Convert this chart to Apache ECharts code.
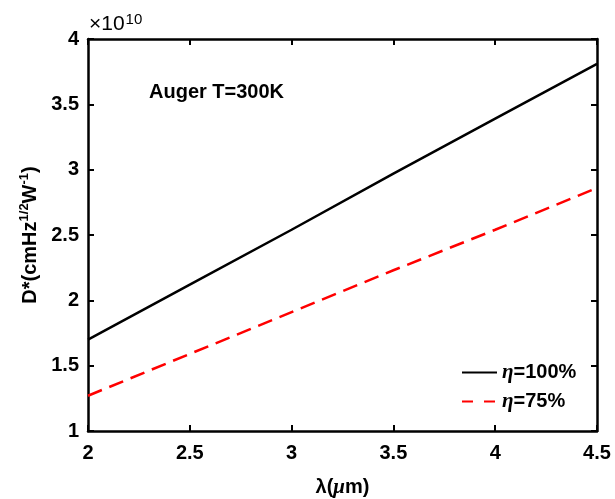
<!DOCTYPE html>
<html>
<head>
<meta charset="utf-8">
<script src="https://cdn.jsdelivr.net/npm/echarts@6/dist/echarts.min.js"></script>
<style>
  html, body { margin: 0; padding: 0; background: #fff; }
  #chart { width: 615px; height: 499px; }
</style>
</head>
<body>
<div id="chart"></div>
<script>
// wavelength (um) and detectivity (x1e10 cmHz^1/2 W^-1)
const lambda = [2, 2.5, 3, 3.5, 4, 4.5];
const eta100 = [1.70, 2.12, 2.54, 2.97, 3.39, 3.81];
const eta75 = [1.27, 1.59, 1.91, 2.23, 2.54, 2.86];
const seriesNames = ['{i|η}=100%', '{i|η}=75%'];

const FONT = 'Liberation Sans, Arial, sans-serif';
const SERIF = 'Liberation Serif, Times New Roman, serif';
const chart = echarts.init(document.getElementById('chart'), null, { renderer: 'canvas' });

const tickLabel = { color: '#000', fontFamily: FONT, fontWeight: 'bold', fontSize: 20 };
const axisLine = { show: true, lineStyle: { color: '#000', width: 2.5 } };
const axisTick = { show: true, inside: true, length: 6, lineStyle: { color: '#000', width: 2 } };

chart.setOption({
  animation: false,
  backgroundColor: '#fff',
  grid: { left: 88, right: 18, top: 39, bottom: 68, outerBoundsMode: 'none', containLabel: false },
  xAxis: [{
    type: 'value', min: 2, max: 4.5, interval: 0.5,
    axisLine, axisTick, splitLine: { show: false },
    axisLabel: { ...tickLabel, margin: 12 },
    name: '{b|λ(}{m|μ}{b|m)}', nameLocation: 'middle', nameGap: 46,
    nameTextStyle: {
      color: '#000', fontFamily: FONT, fontWeight: 'bold', fontSize: 20,
      rich: {
        b: { fontFamily: FONT, fontWeight: 'bold', fontSize: 20, color: '#000' },
        m: { fontFamily: SERIF, fontStyle: 'italic', fontSize: 21, color: '#000' },
      },
    },
  }, {
    type: 'value', position: 'top', min: 2, max: 4.5, interval: 0.5,
    axisLine, axisTick, axisLabel: { show: false }, splitLine: { show: false },
  }],
  yAxis: [{
    type: 'value', min: 1, max: 4, interval: 0.5,
    axisLine, axisTick, splitLine: { show: false },
    axisLabel: { ...tickLabel, margin: 9 },
    name: 'D*(cmHz{s|1/2}W{s|-1})', nameLocation: 'middle', nameGap: 44,
    nameTextStyle: {
      color: '#000', fontFamily: FONT, fontWeight: 'bold', fontSize: 20,
      rich: { s: { fontFamily: FONT, fontWeight: 'bold', fontSize: 13, verticalAlign: 'top', padding: [0, 0, 12, 0], color: '#000' } },
    },
  }, {
    type: 'value', position: 'right', min: 1, max: 4, interval: 0.5,
    axisLine, axisTick, axisLabel: { show: false }, splitLine: { show: false },
  }],
  legend: {
    left: 456, top: 357, orient: 'vertical', itemWidth: 35, itemGap: 8,
    itemHeight: 20,
    itemStyle: { opacity: 0 },
    data: [
      { name: seriesNames[0] },
      { name: seriesNames[1], lineStyle: { type: [11, 11] } },
    ],
    textStyle: {
      color: '#000', fontFamily: FONT, fontWeight: 'bold', fontSize: 20,
      rich: { i: { fontFamily: SERIF, fontStyle: 'italic', fontSize: 21, color: '#000' } },
    },
  },
  graphic: [{
    type: 'text', left: 89, top: 12,
    style: { text: '×10{s|10}', fill: '#000', fontSize: 21, fontFamily: FONT,
      rich: { s: { fontSize: 15, verticalAlign: 'top', padding: [0, 0, 10, 1], fill: '#000', fontFamily: FONT } } },
  }, {
    type: 'text', left: 149, top: 82,
    style: { text: 'Auger T=300K', fill: '#000', font: 'bold 20px ' + FONT },
  }],
  series: [{
    name: seriesNames[0], type: 'line', symbol: 'none',
    data: lambda.map((x, i) => [x, eta100[i]]),
    lineStyle: { color: '#000', width: 2.5 }, itemStyle: { color: '#000' },
  }, {
    name: seriesNames[1], type: 'line', symbol: 'none',
    data: lambda.map((x, i) => [x, eta75[i]]),
    lineStyle: { color: '#ff0000', width: 2.5, type: [15, 8] }, itemStyle: { color: '#ff0000' },
  }],
});
</script>
</body>
</html>
